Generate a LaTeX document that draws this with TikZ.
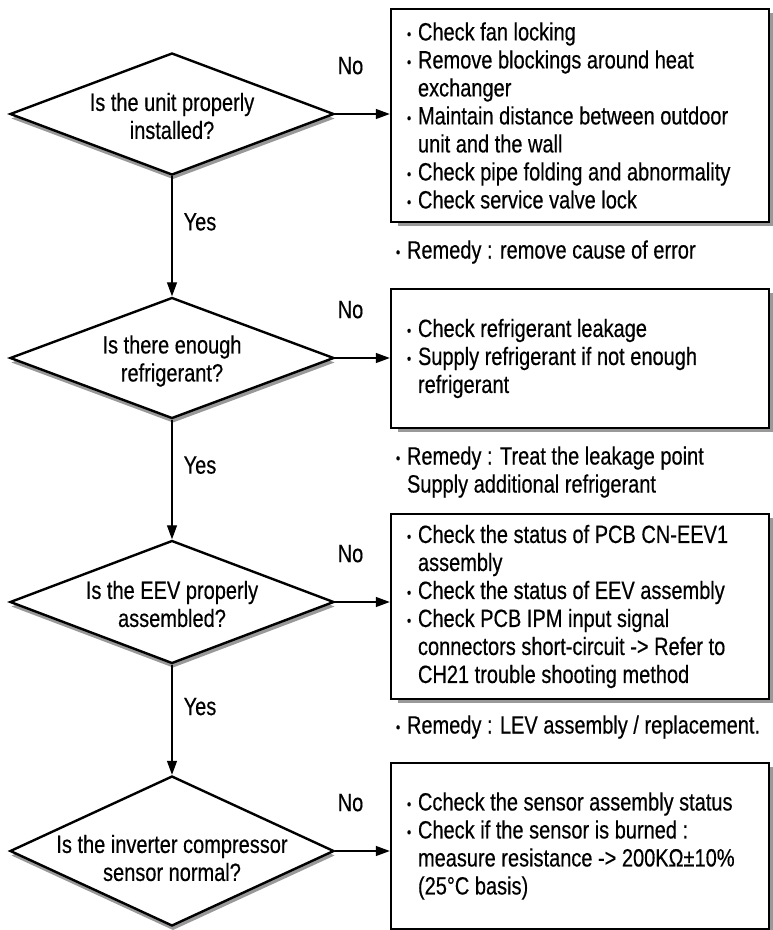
\documentclass[tikz,border=0pt]{standalone}
\usepackage{fontspec}
\setmainfont{Liberation Sans}[FakeStretch=0.8, FakeBold=0.4]
\usepackage{graphicx}
\usetikzlibrary{arrows.meta, shapes.geometric, shadows, positioning}

% Puce et retrait des lignes suivantes
\newcommand{\puce}{\makebox[11pt][l]{\raisebox{1.2pt}{\scalebox{0.6}{\textbullet}}}}
\newcommand{\suite}{\hspace*{11pt}}

\begin{document}
\begin{tikzpicture}[x=1pt, y=-1pt,
  font=\fontsize{25pt}{28pt}\selectfont,
  question/.style={diamond, draw=black, line width=2.4pt, fill=white,
    minimum width=324pt, inner sep=0pt,
    drop shadow={shadow xshift=1pt, shadow yshift=-4.5pt, fill=black!40, opacity=1}},
  qtext/.style={align=center, inner sep=0pt},
  checkbox/.style={draw=black, line width=2.4pt, fill=white, text width=346pt,
    inner xsep=16pt, inner ysep=0pt, align=left,
    execute at begin node={\spaceskip=0pt\xspaceskip=0pt\relax},
    drop shadow={shadow xshift=7pt, shadow yshift=-4pt, fill=black!40, opacity=1}},
  remedy/.style={inner sep=0pt, align=left},
  lab/.style={inner sep=0pt},
  flow/.style={line width=1.3pt, -{Triangle[length=14pt, width=10pt]}}]
  \useasboundingbox (0,0) rectangle (772,930);
  \pgfmathsetmacro{\xq}{172}
  % Losanges de décision
  \node[question, minimum height=122pt] (q1) at (\xq,114) {};
  \node[question, minimum height=121pt] (q2) at (\xq,358) {};
  \node[question, minimum height=123pt] (q3) at (\xq,602) {};
  \node[question, minimum height=150pt] (q4) at (\xq,851) {};
  \node[qtext, yshift=-2pt] (t1) at (q1) {Is the unit properly\\installed?};
  \node[qtext, yshift=-3pt] (t2) at (q2) {Is there enough\\refrigerant?};
  \node[qtext, yshift=-2pt] (t3) at (q3) {Is the EEV properly\\assembled?};
  \node[qtext, yshift=-7pt] (t4) at (q4) {Is the inverter compressor\\sensor normal?};
  % Cadres des vérifications
  \node[checkbox, minimum height=213pt] (c1) at (580,115.5) {\puce Check fan locking\\
    \puce Remove blockings around heat\\ \suite exchanger\\
    \puce Maintain distance between outdoor\\ \suite unit and the wall\\
    \puce Check pipe folding and abnormality\\
    \puce Check service valve lock};
  \node[checkbox, minimum height=139pt] (c2) at (580,358.5) {\puce Check refrigerant leakage\\
    \puce Supply refrigerant if not enough\\ \suite refrigerant};
  \node[checkbox, minimum height=185pt] (c3) at (580,606.5) {\puce Check the status of PCB CN-EEV1\\
    \suite assembly\\
    \puce Check the status of EEV assembly\\
    \puce Check PCB IPM input signal\\ \suite connectors short-circuit -> Refer to\\
    \suite CH21 trouble shooting method};
  \node[checkbox, minimum height=166pt] (c4) at (580,846) {\puce Ccheck the sensor assembly status\\
    \puce Check if the sensor is burned :\\ \suite measure resistance -> 200KΩ±10\%\\
    \suite (25°C basis)};
  % Remèdes
  \node[remedy, below right=17pt and 6pt of c1.south west] (r1) {\puce Remedy : remove cause of error};
  \node[remedy, below right=17pt and 6pt of c2.south west] (r2) {\puce Remedy : Treat the leakage point\\
    \suite Supply additional refrigerant};
  \node[remedy, below right=15pt and 6pt of c3.south west] (r3) {\puce Remedy : LEV assembly / replacement.};
  % Flèches Yes
  \draw[flow] (q1.south) -- node[lab, pos=0.38, right=11pt] (y1) {Yes} (q2.north);
  \draw[flow] (q2.south) -- node[lab, pos=0.38, right=11pt] (y2) {Yes} (q3.north);
  \draw[flow] (q3.south) -- node[lab, pos=0.38, right=11pt] (y3) {Yes} (q4.north);
  % Flèches No
  \draw[flow] (q1.east) -- node[lab, pos=0.28, above=39pt] (n1) {No} (q1.east -| c1.west);
  \draw[flow] (q2.east) -- node[lab, pos=0.28, above=39pt] (n2) {No} (q2.east -| c2.west);
  \draw[flow] (q3.east) -- node[lab, pos=0.28, above=39pt] (n3) {No} (q3.east -| c3.west);
  \draw[flow] (q4.east) -- node[lab, pos=0.28, above=39pt] (n4) {No} (q4.east -| c4.west);
\end{tikzpicture}
\end{document}
